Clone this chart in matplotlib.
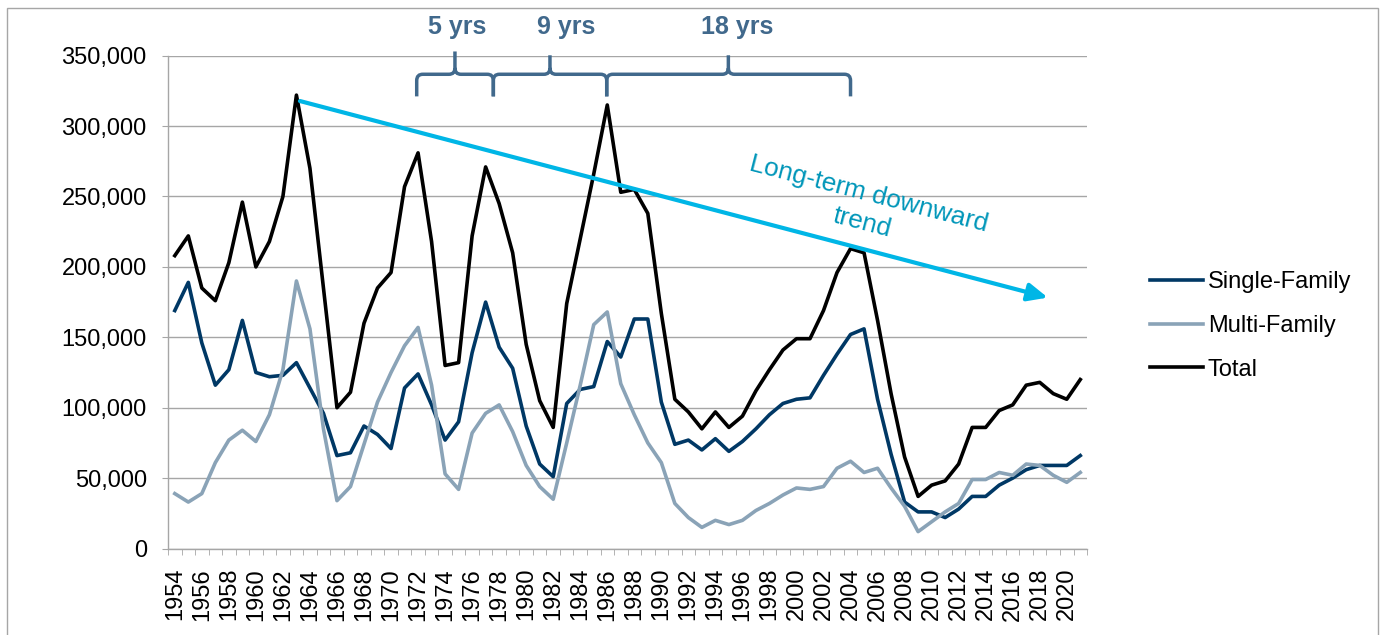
import matplotlib
matplotlib.use("Agg")
import matplotlib.pyplot as plt
from matplotlib.path import Path
from matplotlib.patches import PathPatch, Rectangle
from matplotlib.ticker import FuncFormatter

plt.rcParams['font.family'] = ['Liberation Sans', 'DejaVu Sans']

# datos (miles de viviendas)
years = list(range(1954, 2022))
single_k = [169, 189, 146, 116, 127, 162, 125, 122, 123, 132,
            114, 96, 66, 68, 87, 81, 71, 114, 124, 102,
            77, 90, 139, 175, 143, 128, 87, 60, 51, 103,
            113, 115, 147, 136, 163, 163, 104, 74, 77, 70,
            78, 69, 76, 85, 95, 103, 106, 107, 123, 138,
            152, 156, 106, 67, 33, 26, 26, 22, 28, 37,
            37, 45, 50, 56, 59, 59, 59, 66]
multi_k = [39, 33, 39, 61, 77, 84, 76, 95, 127, 190,
           156, 85, 34, 44, 74, 104, 125, 144, 157, 116,
           53, 42, 82, 96, 102, 83, 59, 44, 35, 75,
           116, 159, 168, 117, 95, 75, 61, 32, 22, 15,
           20, 17, 20, 27, 32, 38, 43, 42, 44, 57,
           62, 54, 57, 43, 30, 12, 19, 26, 32, 49,
           49, 54, 52, 60, 59, 52, 47, 54]
total_k = [208, 222, 185, 176, 203, 246, 200, 218, 250, 322,
           270, 185, 100, 111, 160, 185, 196, 257, 281, 218,
           130, 132, 222, 271, 245, 210, 145, 105, 86, 174,
           220, 266, 315, 253, 255, 238, 167, 106, 97, 85,
           97, 86, 94, 112, 127, 141, 149, 149, 169, 196,
           213, 210, 162, 110, 65, 37, 45, 48, 60, 86,
           86, 98, 102, 116, 118, 110, 106, 120]

# llaves de los ciclos: (inicio, fin, punta, etiqueta)
braces = [(1971.9, 1977.57, 1974.73, '5 yrs'),
          (1977.57, 1985.96, 1981.76, '9 yrs'),
          (1985.96, 2004.0, 1994.96, '18 yrs')]
label_x = [1974.9, 1982.95, 1995.6]

grey = '#A6A6A6'
fs = 17

fig = plt.figure(figsize=(13.83, 6.35), dpi=100)
ax = fig.add_axes([0.1215, 0.1362, 0.6645, 0.7761])

x = list(range(len(years)))
ax.plot(x, [v * 1000 for v in single_k], color='#003865', lw=2.6, label='Single-Family')
ax.plot(x, [v * 1000 for v in multi_k], color='#8AA3B7', lw=2.6, label='Multi-Family')
ax.plot(x, [v * 1000 for v in total_k], color='black', lw=2.6, label='Total')

ax.set_xlim(-0.5, len(years) - 0.5)
ax.set_ylim(0, 350000)
ax.set_yticks(range(0, 350001, 50000))
ax.yaxis.set_major_formatter(FuncFormatter(lambda v, p: f'{int(v):,}'))
ax.grid(axis='y', color=grey, lw=1.0)
ax.set_axisbelow(True)

for s in ['top', 'right']:
    ax.spines[s].set_visible(False)
for s in ['left', 'bottom']:
    ax.spines[s].set_color(grey)
    ax.spines[s].set_linewidth(1.0)

ax.set_xticks(x[::2])
ax.set_xticklabels([str(y) for y in years[::2]], rotation=90)
ax.set_xticks([i - 0.5 for i in range(len(years) + 1)], minor=True)
ax.tick_params(axis='x', which='major', length=0, pad=14, labelsize=fs)
ax.tick_params(axis='x', which='minor', length=4, color=grey, direction='out')
ax.tick_params(axis='y', length=4.3, color=grey, pad=11, labelsize=fs)

# flecha de tendencia
ax.annotate('', xy=(64.6, 178200), xytext=(9.26, 317800),
            arrowprops=dict(arrowstyle='-|>,head_length=1.0,head_width=0.45',
                            color='#00B6E6', lw=3, mutation_scale=12,
                            shrinkA=0, shrinkB=0))
ax.text(51.1, 241500, 'Long-term downward\ntrend', rotation=-14.5,
        rotation_mode='anchor', ha='center', va='center', ma='center',
        color='#0096B9', fontsize=18.8, linespacing=1.28)

# llaves
bcol = '#41698C'
yh, y0, rx, ry = 336800, 321100, 0.45, 4500
M, L, C = Path.MOVETO, Path.LINETO, Path.CURVE3
for (a, b, t, lab), lx in zip(braces, label_x):
    xl, xr, xt = a - 1954, b - 1954, t - 1954
    ytop = 353000 if lab == '5 yrs' else 350300
    verts = [(xl, y0), (xl, yh - ry), (xl, yh), (xl + rx, yh),
             (xt - rx, yh), (xt, yh), (xt, yh + ry), (xt, ytop),
             (xt, yh + ry), (xt, yh), (xt + rx, yh),
             (xr - rx, yh), (xr, yh), (xr, yh - ry), (xr, y0)]
    codes = [M, L, C, C, L, C, C, L, M, C, C, L, C, C, L]
    ax.add_patch(PathPatch(Path(verts, codes), fill=False, edgecolor=bcol,
                           lw=2.5, clip_on=False, capstyle='butt'))
    ax.text(lx - 1954, 365200, lab, ha='center', va='baseline',
            fontsize=18, fontweight='bold', color=bcol)

fig.legend(loc='center left', bbox_to_anchor=(1150 / 1383, 1 - 326 / 635),
           frameon=False, fontsize=fs, handlelength=2.25, handletextpad=0.2,
           labelspacing=0.92, borderpad=0, borderaxespad=0)

# marco del grafico
fig.patches.append(Rectangle((7 / 1383, -0.05), 1371 / 1383, 1.05 - 8 / 635,
                             transform=fig.transFigure, fill=False,
                             edgecolor=grey, lw=1.0))

plt.savefig("out.png", dpi=100)
